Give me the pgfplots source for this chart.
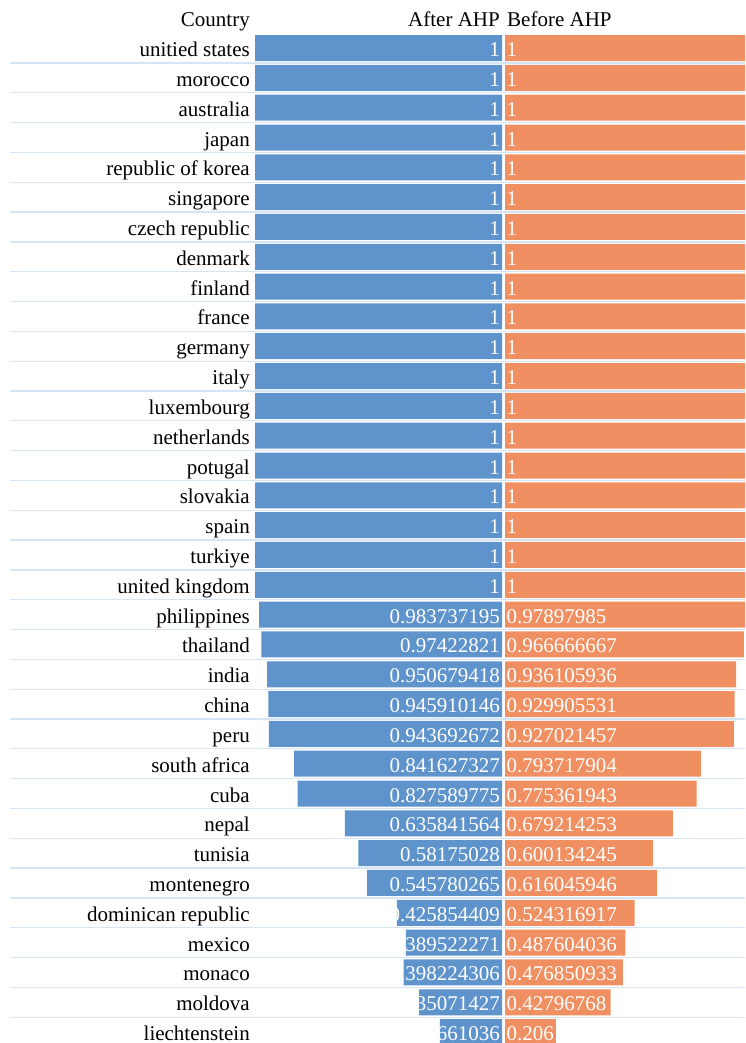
\documentclass[border=0pt]{standalone}
\usepackage{fontspec}
\setmainfont{Liberation Serif}
\usepackage{pgfplots}
\usepackage{pgfplotstable}
\pgfplotsset{compat=1.18}

\definecolor{afterblue}{RGB}{95,147,204}
\definecolor{beforeorange}{RGB}{240,144,98}
\definecolor{rowline}{RGB}{215,228,243}

% AHP scores per country, after and before the AHP weighting
\pgfplotstableread[col sep=comma]{
idx,Country,After,Before
0,unitied states,1,1
1,morocco,1,1
2,australia,1,1
3,japan,1,1
4,republic of korea,1,1
5,singapore,1,1
6,czech republic,1,1
7,denmark,1,1
8,finland,1,1
9,france,1,1
10,germany,1,1
11,italy,1,1
12,luxembourg,1,1
13,netherlands,1,1
14,potugal,1,1
15,slovakia,1,1
16,spain,1,1
17,turkiye,1,1
18,united kingdom,1,1
19,philippines,0.983737195,0.97897985
20,thailand,0.97422821,0.966666667
21,india,0.950679418,0.936105936
22,china,0.945910146,0.929905531
23,peru,0.943692672,0.927021457
24,south africa,0.841627327,0.793717904
25,cuba,0.827589775,0.775361943
26,nepal,0.635841564,0.679214253
27,tunisia,0.58175028,0.600134245
28,montenegro,0.545780265,0.616045946
29,dominican republic,0.425854409,0.524316917
30,mexico,0.389522271,0.487604036
31,monaco,0.398224306,0.476850933
32,moldova,0.335071427,0.42796768
33,liechtenstein,0.251661036,0.206185567
}\scores

\newcommand{\cellfont}{\fontsize{21}{25}\selectfont}

\begin{document}
\begin{tikzpicture}[x=1pt,y=1pt]
\path[use as bounding box] (0,-1043) rectangle (745,0);
\clip (0,-1043) rectangle (745,0);

% Right half: "Before AHP" bars, row rules and country names
\begin{axis}[
  at={(10pt,-1046.97pt)}, anchor=south west,
  scale only axis, width=735pt, height=1013.88pt,
  xmin=-2.00405, xmax=0.97166,
  ymin=-0.5, ymax=33.5, y dir=reverse,
  axis line style={draw=none},
  xtick=\empty,
  ytick={0,...,33},
  yticklabels from table={\scores}{Country},
  major tick length=0pt,
  yticklabel style={anchor=base east, inner sep=0pt, text depth=0pt,
    xshift=240pt, yshift=-8.5pt, font=\cellfont},
  extra y ticks={0.5,1.5,...,32.5},
  extra y tick labels={},
  extra y tick style={grid=major, major grid style={rowline, line width=1.3pt}},
]
\addplot[xbar, bar shift=0pt, bar width=26pt, fill=beforeorange, draw=none]
  table[x=Before, y=idx]{\scores};
\addplot[draw=none, nodes near coords, point meta=explicit symbolic,
  every node near coord/.style={anchor=base west, inner sep=0pt, text depth=0pt,
    text=white, font=\cellfont, xshift=1.5pt, yshift=-8.5pt}]
  table[x expr=0, y=idx, meta=Before]{\scores};
\end{axis}

% Left half: "After AHP" bars growing leftwards
\begin{axis}[
  at={(10pt,-1046.97pt)}, anchor=south west,
  scale only axis, width=492pt, height=1013.88pt,
  x dir=reverse, xmin=0, xmax=1.99190,
  ymin=-0.5, ymax=33.5, y dir=reverse,
  hide axis,
]
\addplot[xbar, bar shift=0pt, bar width=26pt, fill=afterblue, draw=none]
  table[x=After, y=idx]{\scores};
\addplot[draw=none, nodes near coords, point meta=explicit symbolic,
  every node near coord/.style={anchor=base east, inner sep=0pt, text depth=0pt,
    text=white, font=\cellfont, xshift=-2pt, yshift=-8.5pt}]
  table[x expr=0, y=idx, meta=After]{\scores};
\end{axis}

% Column headers
\node[anchor=base east, inner sep=0pt, font=\cellfont] at (250,-26.7) {Country};
\node[anchor=base east, inner sep=0pt, font=\cellfont] at (500,-26.7) {After AHP};
\node[anchor=base west, inner sep=0pt, font=\cellfont] at (507,-26.7) {Before AHP};
\end{tikzpicture}
\end{document}
